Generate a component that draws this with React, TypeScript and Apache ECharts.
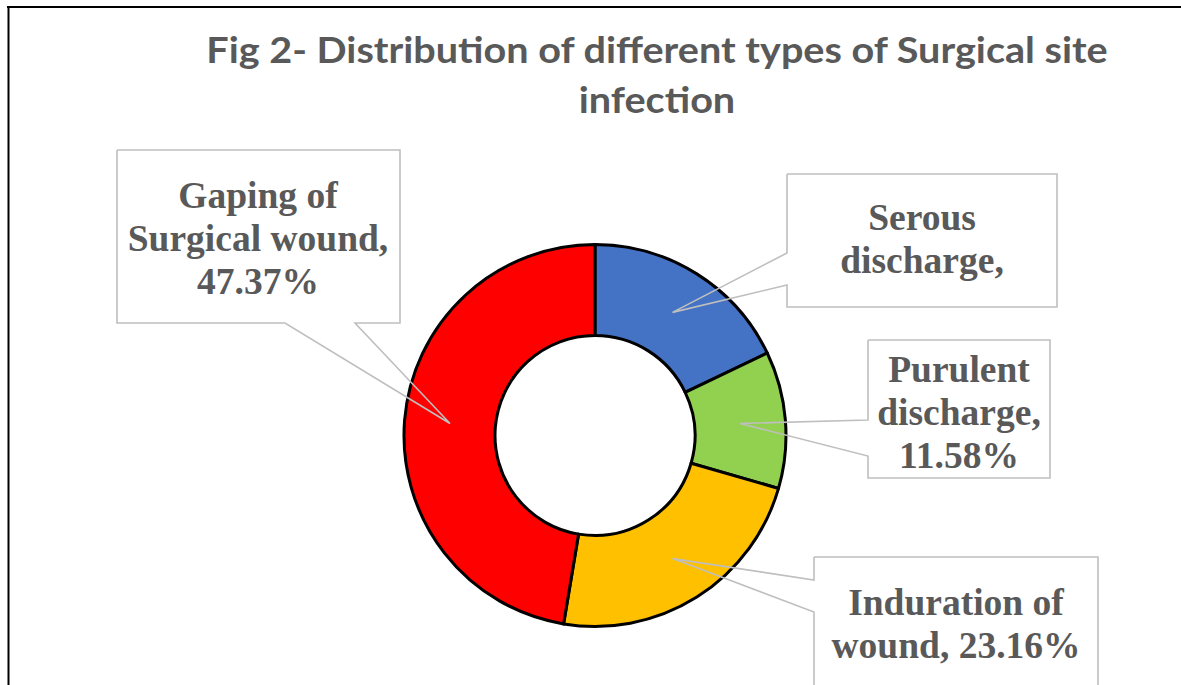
import React, { useEffect, useRef } from "react";
import * as echarts from "echarts";

const categories = [
  "Serous discharge",
  "Purulent discharge",
  "Induration of wound",
  "Gaping of Surgical wound",
];
const values = [17.89, 11.58, 23.16, 47.37];
const labelTexts = [
  "Serous\ndischarge,",
  "Purulent\ndischarge,\n11.58%",
  "Induration of\nwound, 23.16%",
  "Gaping of\nSurgical wound,\n47.37%",
];
const colors = ["#4472C4", "#92D050", "#FFC000", "#FF0000"];
const titleLines = ["Fig 2- Distribution of different types of Surgical site", "infection"];

// layout of callout boxes: [left, top, right, bottom, side, a, b]
const boxes: [number, number, number, number, string, number, number][] = [
  [787, 174, 1057, 307, "left", 253, 285],
  [868, 340, 1050, 478, "left", 420, 456],
  [814, 557, 1098, 720, "left", 580, 612],
  [117, 150, 400, 323, "bottom", 285, 355],
];
const textCenters: [number, number][] = [
  [922, 239],
  [959, 412],
  [956, 624],
  [258, 238],
];

const CX = 595;
const CY = 435.5;
const R_IN = 100;
const R_OUT = 191;

export default function App() {
  const ref = useRef<HTMLDivElement>(null);
  useEffect(() => {
    if (!ref.current) return;
    const chart = echarts.init(ref.current, null, { renderer: "svg" });
    const total = values.reduce((a, b) => a + b, 0);
    let cum = 0;
    const callouts: any[] = values.map((v, i) => {
      const mid = (cum + v / 2) / total;
      cum += v;
      const ang = (90 - mid * 360) * (Math.PI / 180);
      const rm = (R_IN + R_OUT) / 2;
      const tip = [CX + rm * Math.cos(ang), CY - rm * Math.sin(ang)];
      const [l, t, r, b, side, a1, a2] = boxes[i];
      let pts: number[][];
      if (side === "left") {
        pts = [[l, t], [r, t], [r, b], [l, b], [l, a2], tip, [l, a1], [l, t]];
      } else {
        pts = [[l, t], [r, t], [r, b], [a2, b], tip, [a1, b], [l, b], [l, t]];
      }
      return {
        type: "polyline",
        z: 10,
        shape: { points: pts },
        style: { stroke: "#BFBFBF", lineWidth: 1.6, fill: null },
        silent: true,
      };
    });
    const titleStyle = {
      fontFamily: "Lato",
      fontWeight: "bold",
      fontSize: 37,
      fill: "#595959",
      textAlign: "center",
      textVerticalAlign: "middle",
    };
    chart.setOption({
      animation: false,
      backgroundColor: "#ffffff",
      graphic: [
        {
          type: "line",
          shape: { x1: 7, y1: 7, x2: 1181, y2: 7 },
          style: { stroke: "#000", lineWidth: 2 },
        },
        {
          type: "line",
          shape: { x1: 8.5, y1: 6, x2: 8.5, y2: 685 },
          style: { stroke: "#000", lineWidth: 2 },
        },
        {
          type: "text",
          x: 657,
          y: 49,
          scaleX: 1.07,
          style: { ...titleStyle, text: titleLines[0] },
        },
        {
          type: "text",
          x: 657,
          y: 99,
          scaleX: 1.07,
          style: { ...titleStyle, text: titleLines[1] },
        },
        ...callouts,
      ],
      series: [
        {
          type: "pie",
          center: [CX, CY],
          radius: [R_IN, R_OUT],
          startAngle: 90,
          clockwise: true,
          z: 2,
          itemStyle: { borderColor: "#000", borderWidth: 3 },
          label: {
            show: true,
            formatter: (p: any) => labelTexts[p.dataIndex],
            fontFamily: "Liberation Serif",
            fontWeight: "bold",
            fontSize: 37.5,
            lineHeight: 43,
            color: "#595959",
            align: "center",
          },
          labelLine: { show: false },
          labelLayout: (p: any) => ({
            x: textCenters[p.dataIndex][0],
            y: textCenters[p.dataIndex][1],
            align: "center",
            verticalAlign: "middle",
          }),
          emphasis: { disabled: true },
          data: categories.map((c, i) => ({
            name: c,
            value: values[i],
            itemStyle: { color: colors[i] },
          })),
        },
      ],
    });
    return () => chart.dispose();
  }, []);
  return (
    <div
      ref={ref}
      style={{ position: "absolute", left: 0, top: 0, width: 1181, height: 685 }}
    />
  );
}
